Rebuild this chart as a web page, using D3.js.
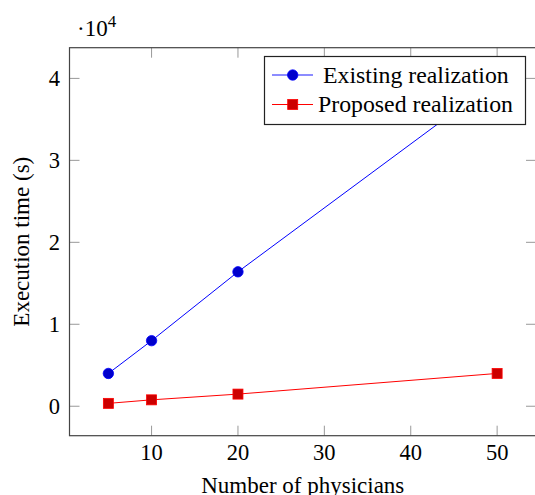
<!DOCTYPE html>
<html><head><meta charset="utf-8">
<script src="https://cdn.jsdelivr.net/npm/d3@7"></script>
<style>body{margin:0;background:#fff}svg{display:block}text{font-family:"Liberation Serif","Times New Roman",serif;fill:#000}</style>
</head><body><svg id="c" width="535" height="495"></svg>
<script>
const physicians = [5, 10, 20, 50];
const existing = [4000, 8000, 16400, 39800];
const proposed = [350, 780, 1480, 4000];
const xTicks = [10, 20, 30, 40, 50];
const yTicks = [0, 1, 2, 3, 4];
const seriesNames = ["Existing realization", "Proposed realization"];

const svg = d3.select("#c");
const L = 69.5, R = 536, T = 47.7, B = 435.7;
const x = d3.scaleLinear().domain([0.5, 54.5]).range([L, R]);
const y = d3.scaleLinear().domain([-3595, 43745]).range([B, T]);

const g = svg.append("g");
const tl = 10;
xTicks.forEach(t => {
  g.append("line").attr("x1", x(t)).attr("x2", x(t)).attr("y1", B).attr("y2", B - tl).attr("stroke", "#999").attr("stroke-width", 1);
  g.append("line").attr("x1", x(t)).attr("x2", x(t)).attr("y1", T).attr("y2", T + tl).attr("stroke", "#999").attr("stroke-width", 1);
  g.append("text").attr("x", x(t)).attr("y", B + 24.5).attr("text-anchor", "middle").attr("font-size", "22.5px").text(t);
});
yTicks.forEach(t => {
  const yy = y(t * 1e4);
  g.append("line").attr("x1", L).attr("x2", L + tl).attr("y1", yy).attr("y2", yy).attr("stroke", "#999").attr("stroke-width", 1);
  g.append("line").attr("x1", R).attr("x2", R - tl).attr("y1", yy).attr("y2", yy).attr("stroke", "#999").attr("stroke-width", 1);
  g.append("text").attr("x", 60).attr("y", yy + 7.7).attr("text-anchor", "end").attr("font-size", "22.5px").text(t);
});
g.append("rect").attr("x", L).attr("y", T).attr("width", R - L).attr("height", B - T).attr("fill", "none").attr("stroke", "#444").attr("stroke-width", 1.2);

const line = d3.line().x(d => x(d[0])).y(d => y(d[1]));
const eData = physicians.map((p, i) => [p, existing[i]]);
const pData = physicians.map((p, i) => [p, proposed[i]]);
svg.append("clipPath").attr("id", "clip").append("rect").attr("x", L).attr("y", T).attr("width", R - L).attr("height", B - T);
const plot = svg.append("g").attr("clip-path", "url(#clip)");
plot.append("path").datum(eData).attr("d", line).attr("fill", "none").attr("stroke", "#0000ff").attr("stroke-width", 1);
plot.append("path").datum(pData).attr("d", line).attr("fill", "none").attr("stroke", "#ff0000").attr("stroke-width", 1);
plot.selectAll("circle.e").data(eData).enter().append("circle").attr("cx", d => x(d[0])).attr("cy", d => y(d[1])).attr("r", 5.2).attr("fill", "#0000cc").attr("stroke", "#0000ff").attr("stroke-width", 0.8);
plot.selectAll("rect.p").data(pData).enter().append("rect").attr("x", d => x(d[0]) - 5).attr("y", d => y(d[1]) - 5).attr("width", 10).attr("height", 10).attr("fill", "#cc0000").attr("stroke", "#ff0000").attr("stroke-width", 0.8);

const lg = svg.append("g");
lg.append("rect").attr("x", 264.5).attr("y", 56.5).attr("width", 261).attr("height", 68).attr("fill", "#fff").attr("stroke", "#222").attr("stroke-width", 1.2);
const rows = [75, 104.5];
lg.append("line").attr("x1", 272).attr("x2", 313).attr("y1", rows[0]).attr("y2", rows[0]).attr("stroke", "#6666ff").attr("stroke-width", 1.5);
lg.append("circle").attr("cx", 292.7).attr("cy", rows[0]).attr("r", 5.2).attr("fill", "#0000cc").attr("stroke", "#0000ff").attr("stroke-width", 0.8);
lg.append("line").attr("x1", 272).attr("x2", 313).attr("y1", rows[1]).attr("y2", rows[1]).attr("stroke", "#ff0000").attr("stroke-width", 1);
lg.append("rect").attr("x", 287.7).attr("y", rows[1] - 5).attr("width", 10).attr("height", 10).attr("fill", "#cc0000").attr("stroke", "#ff0000").attr("stroke-width", 0.8);
lg.append("text").attr("x", 323).attr("y", rows[0] + 7.8).attr("font-size", "23.8px").text(seriesNames[0]);
lg.append("text").attr("x", 318).attr("y", rows[1] + 7.8).attr("font-size", "23.8px").text(seriesNames[1]);

svg.append("text").attr("x", (L + R) / 2).attr("y", 493).attr("text-anchor", "middle").attr("font-size", "23px").text("Number of physicians");
svg.append("text").attr("transform", `translate(29,${(T + B) / 2}) rotate(-90)`).attr("text-anchor", "middle").attr("font-size", "23px").text("Execution time (s)");
const sl = svg.append("text").attr("x", 77).attr("y", 36).attr("font-size", "23px");
sl.append("tspan").text("·10");
sl.append("tspan").attr("dy", -9.5).attr("font-size", "17px").text("4");
</script></body></html>
